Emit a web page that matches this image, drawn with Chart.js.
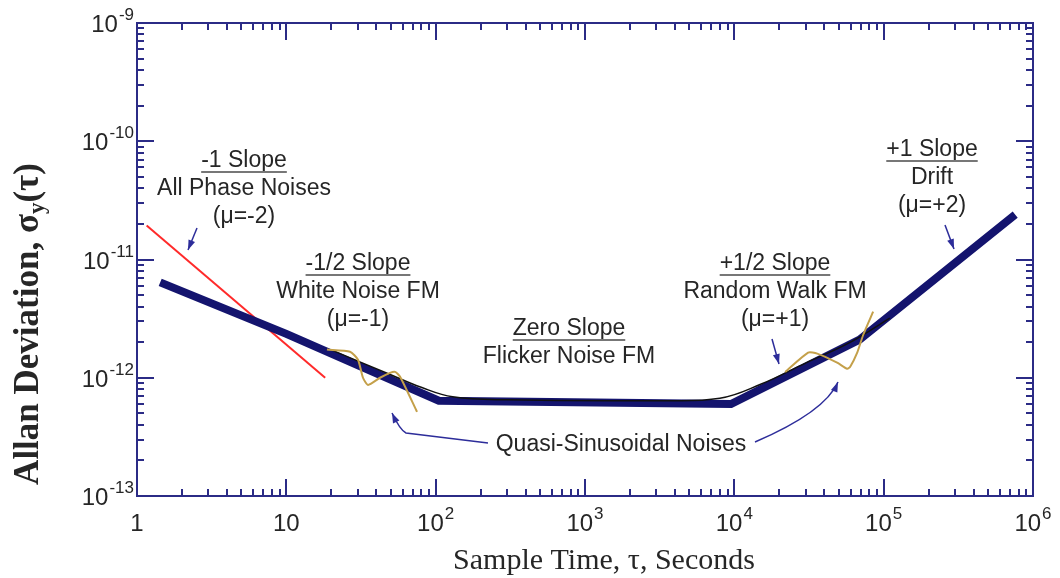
<!DOCTYPE html>
<html>
<head>
<meta charset="utf-8">
<script src="https://cdn.jsdelivr.net/npm/chart.js@4/dist/chart.umd.min.js"></script>
<style>
html,body{margin:0;padding:0;background:#fff;}
#wrap{width:1060px;height:578px;position:relative;}
</style>
</head>
<body>
<div id="wrap"><canvas id="c" width="1060" height="578"></canvas></div>
<script>
// ---- data ----
const tauRed   = [1.16, 18.2];
const sigmaRed = [1.94e-11, 1.0e-12];

const tauNavy   = [1.43, 10, 105, 9500, 6.9e4, 7.6e5];
const sigmaNavy = [6.4e-12, 2.35e-12, 6.4e-13, 6.0e-13, 2.1e-12, 2.4e-11];

const tauBlack   = [20, 50, 80, 130, 300, 3000, 8000, 1.5e4, 3e4, 6e4, 1.1e5];
const sigmaBlack = [1.72e-12, 1.06e-12, 8.3e-13, 6.9e-13, 6.5e-13, 6.4e-13, 6.7e-13, 8.8e-13, 1.33e-12, 2.0e-12, 3.2e-12];

const tauGold1   = [18.7, 26.7, 30.2, 32.6, 35.3, 42.4, 49.5, 53.5, 57.8, 75];
const sigmaGold1 = [1.73e-12, 1.66e-12, 1.42e-12, 1.0e-12, 8.7e-13, 1.0e-12, 1.1e-12, 1.12e-12, 1.02e-12, 5.15e-13];

const tauGold2   = [2.19e4, 3.12e4, 3.59e4, 4.88e4, 5.7e4, 5.97e4, 6.65e4, 7.3e4, 8.5e4];
const sigmaGold2 = [1.12e-12, 1.63e-12, 1.6e-12, 1.34e-12, 1.19e-12, 1.24e-12, 1.63e-12, 2.31e-12, 3.62e-12];

const xTickExponents = [0, 1, 2, 3, 4, 5, 6];
const yTickExponents = [-9, -10, -11, -12, -13];

const xTitle = 'Sample Time, \u03C4, Seconds';

const zip = (xs, ys) => xs.map((x, i) => ({x: x, y: ys[i]}));

// ---- styling ----
const FRAME = '#2b2b86';
const TEXT = '#262626';
const ARROW = '#2d2d9a';

const framePlugin = {
  id: 'frame',
  afterDraw(chart) {
    const ctx = chart.ctx;
    const xs = chart.scales.x, ys = chart.scales.y;
    const a = chart.chartArea;
    ctx.save();
    ctx.strokeStyle = FRAME;
    ctx.lineWidth = 2;
    ctx.strokeRect(a.left, a.top, a.right - a.left, a.bottom - a.top);
    const MAJ = 17, MIN = 7;
    // x ticks
    for (let p = 0; p <= 6; p++) {
      for (let m = 1; m <= 9; m++) {
        const v = m * Math.pow(10, p);
        if (v > 1e6) break;
        const px = Math.round(xs.getPixelForValue(v));
        const L = (m === 1) ? MAJ : MIN;
        ctx.beginPath();
        ctx.moveTo(px, a.bottom); ctx.lineTo(px, a.bottom - L);
        ctx.moveTo(px, a.top); ctx.lineTo(px, a.top + L);
        ctx.stroke();
      }
    }
    // y ticks
    for (let p = -13; p <= -9; p++) {
      for (let m = 1; m <= 9; m++) {
        const v = m * Math.pow(10, p);
        if (v > 1.0000001e-9) break;
        const py = Math.round(ys.getPixelForValue(v));
        const L = (m === 1) ? MAJ : MIN;
        ctx.beginPath();
        ctx.moveTo(a.left, py); ctx.lineTo(a.left + L, py);
        ctx.moveTo(a.right, py); ctx.lineTo(a.right - L, py);
        ctx.stroke();
      }
    }
    // tick labels
    const baseFont = '24px "Liberation Sans", Arial, sans-serif';
    const expFont = '17px "Liberation Sans", Arial, sans-serif';
    ctx.fillStyle = TEXT;
    ctx.textBaseline = 'alphabetic';
    yTickExponents.forEach(e => {
      const py = ys.getPixelForValue(Math.pow(10, e));
      const es = String(e);
      ctx.font = expFont; const ew = ctx.measureText(es).width;
      ctx.font = baseFont; const bw = ctx.measureText('10').width;
      const right = a.left - 3;
      ctx.textAlign = 'left';
      ctx.font = baseFont;
      ctx.fillText('10', right - ew - bw - 1, py + 9);
      ctx.font = expFont;
      ctx.fillText(es, right - ew, py - 3);
    });
    xTickExponents.forEach(e => {
      const px = xs.getPixelForValue(Math.pow(10, e));
      const baseY = a.bottom + 35;
      ctx.textAlign = 'left';
      if (e === 0 || e === 1) {
        const s = e === 0 ? '1' : '10';
        ctx.font = baseFont; const w = ctx.measureText(s).width;
        ctx.fillText(s, px - w / 2, baseY);
      } else {
        const es = String(e);
        ctx.font = expFont; const ew = ctx.measureText(es).width;
        ctx.font = baseFont; const bw = ctx.measureText('10').width;
        const tot = bw + 1 + ew;
        ctx.fillText('10', px - tot / 2, baseY);
        ctx.font = expFont;
        ctx.fillText(es, px - tot / 2 + bw + 1, baseY - 12);
      }
    });
    // x axis title
    ctx.font = '30px "Liberation Serif", "Times New Roman", serif';
    ctx.textAlign = 'center';
    ctx.fillStyle = TEXT;
    ctx.fillText(xTitle, 604, 569);
    // y axis title (rotated, bold serif, subscript y)
    ctx.save();
    ctx.translate(38, 324);
    ctx.rotate(-Math.PI / 2);
    const t1 = 'Allan Deviation, \u03C3', t2 = 'y', t3 = '(\u03C4)';
    const bigF = 'bold 35px "Liberation Serif", "Times New Roman", serif';
    const subF = 'bold 23px "Liberation Serif", "Times New Roman", serif';
    ctx.font = bigF; const w1 = ctx.measureText(t1).width, w3 = ctx.measureText(t3).width;
    ctx.font = subF; const w2 = ctx.measureText(t2).width;
    const tw = w1 + w2 + w3;
    let x0 = -tw / 2;
    ctx.textAlign = 'left';
    ctx.font = bigF; ctx.fillText(t1, x0, 0);
    ctx.font = subF; ctx.fillText(t2, x0 + w1, 6);
    ctx.font = bigF; ctx.fillText(t3, x0 + w1 + w2, 0);
    ctx.restore();
    ctx.restore();
  }
};

const annotations = [
  {lines: ['-1 Slope', 'All Phase Noises', '(\u03BC=-2)'], cx: 244, y: 167},
  {lines: ['-1/2 Slope', 'White Noise FM', '(\u03BC=-1)'], cx: 358, y: 270},
  {lines: ['Zero Slope', 'Flicker Noise FM'], cx: 569, y: 335},
  {lines: ['+1/2 Slope', 'Random Walk FM', '(\u03BC=+1)'], cx: 775, y: 270},
  {lines: ['+1 Slope', 'Drift', '(\u03BC=+2)'], cx: 932, y: 156},
];
const quasi = {text: 'Quasi-Sinusoidal Noises', cx: 621, y: 451};

function arrowHead(ctx, fx, fy, tx, ty) {
  const ang = Math.atan2(ty - fy, tx - fx);
  const L = 10, W = 3.5;
  ctx.beginPath();
  ctx.moveTo(tx, ty);
  ctx.lineTo(tx - L * Math.cos(ang) + W * Math.sin(ang), ty - L * Math.sin(ang) - W * Math.cos(ang));
  ctx.lineTo(tx - L * Math.cos(ang) - W * Math.sin(ang), ty - L * Math.sin(ang) + W * Math.cos(ang));
  ctx.closePath();
  ctx.fill();
}

const annoPlugin = {
  id: 'anno',
  afterDraw(chart) {
    const ctx = chart.ctx;
    ctx.save();
    ctx.font = '23px "Liberation Sans", Arial, sans-serif';
    ctx.textAlign = 'center';
    ctx.textBaseline = 'alphabetic';
    ctx.fillStyle = TEXT;
    annotations.forEach(an => {
      an.lines.forEach((s, i) => {
        const y = an.y + i * 28;
        ctx.fillText(s, an.cx, y);
        if (i === 0) {
          const w = ctx.measureText(s).width;
          ctx.strokeStyle = '#777';
          ctx.lineWidth = 2;
          ctx.beginPath();
          ctx.moveTo(an.cx - w / 2, y + 5);
          ctx.lineTo(an.cx + w / 2, y + 5);
          ctx.stroke();
        }
      });
    });
    ctx.fillText(quasi.text, quasi.cx, quasi.y);
    // arrows
    ctx.strokeStyle = ARROW;
    ctx.fillStyle = ARROW;
    ctx.lineWidth = 1.5;
    const straight = [[197, 228, 188, 250], [772, 339, 779, 364], [945, 225, 954, 249]];
    straight.forEach(s => {
      ctx.beginPath(); ctx.moveTo(s[0], s[1]); ctx.lineTo(s[2], s[3]); ctx.stroke();
      arrowHead(ctx, s[0], s[1], s[2], s[3]);
    });
    // curved arrows from the "Quasi-Sinusoidal Noises" label
    ctx.beginPath();
    ctx.moveTo(488, 443);
    ctx.lineTo(406, 433);
    ctx.quadraticCurveTo(400, 430, 392, 413);
    ctx.stroke();
    arrowHead(ctx, 398, 426, 392, 413);
    ctx.beginPath();
    ctx.moveTo(755, 442);
    ctx.quadraticCurveTo(825, 412, 838, 382);
    ctx.stroke();
    arrowHead(ctx, 833, 394, 838, 382);
    ctx.restore();
  }
};

new Chart(document.getElementById('c'), {
  type: 'line',
  data: {
    datasets: [
      {data: zip(tauGold1, sigmaGold1), borderColor: '#c4a04a', borderWidth: 2, pointRadius: 0, tension: 0.2, order: 0},
      {data: zip(tauGold2, sigmaGold2), borderColor: '#c4a04a', borderWidth: 2, pointRadius: 0, tension: 0.2, order: 0},
      {data: zip(tauBlack, sigmaBlack), borderColor: '#111', borderWidth: 1.5, pointRadius: 0, tension: 0.4, order: 1},
      {data: zip(tauNavy, sigmaNavy), borderColor: '#14146e', borderWidth: 8, pointRadius: 0, tension: 0, order: 2, borderJoinStyle: 'miter'},
      {data: zip(tauRed, sigmaRed), borderColor: '#ff2a2a', borderWidth: 2, pointRadius: 0, tension: 0, order: 3}
    ]
  },
  options: {
    responsive: false,
    animation: false,
    events: [],
    layout: {padding: {left: 137, right: 27, top: 23, bottom: 82}},
    plugins: {legend: {display: false}, tooltip: {enabled: false}},
    scales: {
      x: {type: 'logarithmic', min: 1, max: 1e6, display: false},
      y: {type: 'logarithmic', min: 1e-13, max: 1e-9, display: false}
    }
  },
  plugins: [framePlugin, annoPlugin]
});
</script>
</body>
</html>
